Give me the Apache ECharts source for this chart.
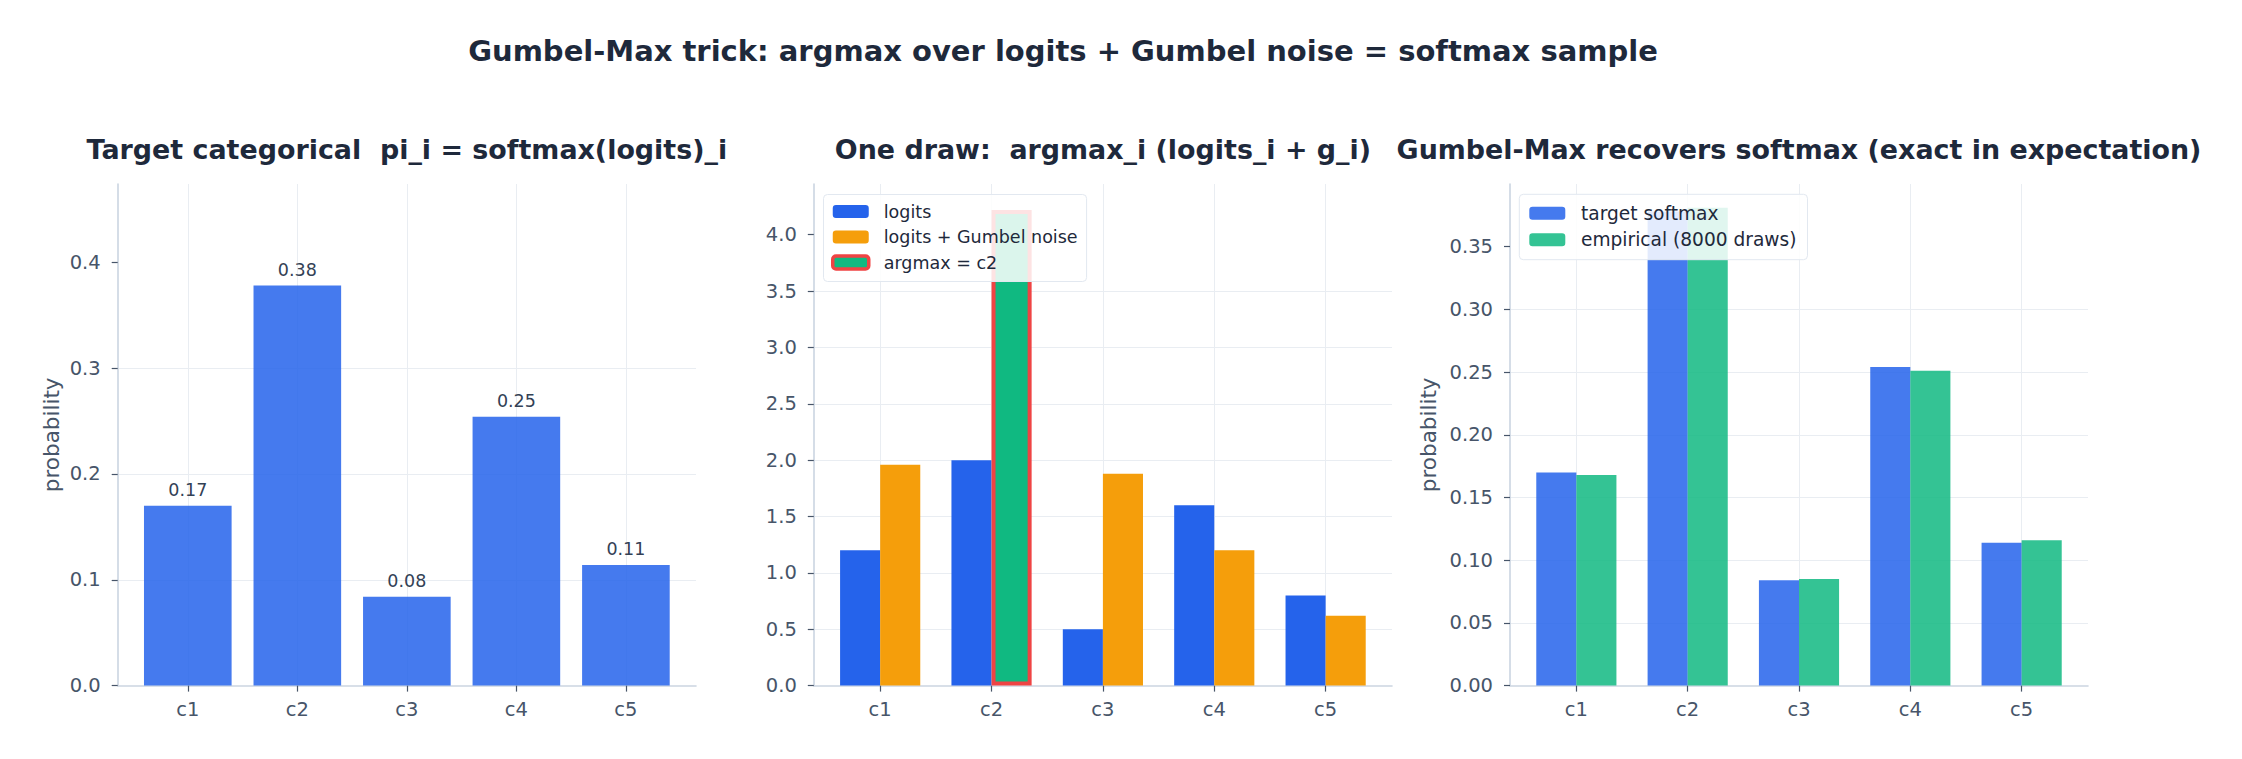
<!DOCTYPE html>
<html>
<head>
<meta charset="utf-8">
<script src="https://cdn.jsdelivr.net/npm/echarts@6/dist/echarts.min.js"></script>
<style>
  html, body { margin: 0; padding: 0; background: #fff; }
  #chart { width: 2242px; height: 759px; }
</style>
</head>
<body>
<div id="chart"></div>
<script>
// data
const categories = ['c1', 'c2', 'c3', 'c4', 'c5'];
const targetProbs = [0.170, 0.378, 0.084, 0.254, 0.114];
const logits = [1.2, 2.0, 0.5, 1.6, 0.8];
const noisyLogits = [1.96, 4.22, 1.88, 1.20, 0.62];
const empiricalProbs = [0.168, 0.381, 0.085, 0.251, 0.116];

// tick labels
const probTicks = [0, 0.1, 0.2, 0.3, 0.4];
const logitTicks = [0, 0.5, 1.0, 1.5, 2.0, 2.5, 3.0, 3.5, 4.0];
const compareTicks = [0, 0.05, 0.10, 0.15, 0.20, 0.25, 0.30, 0.35];

const FONT = 'DejaVu Sans';
const TEXT_DARK = '#1e293b';
const TEXT_MID = '#475569';
const SPINE = '#cbd5e1';
const GRIDLINE = '#e9edf2';
const BLUE = '#2563eb';
const BLUE_A = 'rgba(37,99,235,0.85)';
const ORANGE = '#f59e0b';
const GREEN = '#10b981';
const GREEN_A = 'rgba(16,185,129,0.85)';
const RED = '#ef4444';

const argmaxIdx = noisyLogits.indexOf(Math.max(...noisyLogits));
const argmaxName = 'argmax = ' + categories[argmaxIdx];

// axes boxes in page pixels (spines), and matplotlib-like x limits
const TOP = 184, BOTTOM = 685.6;
const panels = [
    { left: 117.7, right: 696, xlim: [-0.64, 4.64], yMax: 0.474, interval: 0.1, ticks: probTicks, digits: 1,
      title: 'Target categorical  pi_i = softmax(logits)_i', yName: 'probability', nameGap: 55 },
    { left: 813.8, right: 1392, xlim: [-0.596, 4.596], yMax: 4.45, interval: 0.5, ticks: logitTicks, digits: 1,
      title: 'One draw:  argmax_i (logits_i + g_i)', yName: '', nameGap: 0 },
    { left: 1510, right: 2088, xlim: [-0.596, 4.596], yMax: 0.40, interval: 0.05, ticks: compareTicks, digits: 2,
      title: 'Gumbel-Max recovers softmax (exact in expectation)', yName: 'probability', nameGap: 71 }
];

const grids = [], xAxes = [], yAxes = [], titles = [];

panels.forEach((p, i) => {
    const width = p.right - p.left;
    const unit = width / (p.xlim[1] - p.xlim[0]);
    const innerLeft = p.left + (-0.5 - p.xlim[0]) * unit;

    // outer grid: spines, horizontal grid, y labels
    grids.push({ left: p.left, top: TOP, width: width, height: BOTTOM - TOP });
    // inner grid: category bands, bars, x labels
    grids.push({ left: innerLeft, top: TOP, width: unit * 5, height: BOTTOM - TOP });

    xAxes.push({
        type: 'value', gridIndex: 2 * i, min: 0, max: 1,
        axisLine: { show: true, onZero: false, lineStyle: { color: SPINE, width: 1.6 } },
        axisTick: { show: false }, axisLabel: { show: false }, splitLine: { show: false }
    });
    xAxes.push({
        type: 'category', gridIndex: 2 * i + 1, data: categories,
        axisLine: { show: false },
        axisTick: { show: true, alignWithLabel: true, length: 6, lineStyle: { color: TEXT_MID, width: 1.2 } },
        axisLabel: { fontFamily: FONT, fontSize: 19.5, color: TEXT_MID, margin: 14 },
        splitLine: { show: true, alignWithLabel: true, lineStyle: { color: GRIDLINE, width: 1 } }
    });

    yAxes.push({
        type: 'value', gridIndex: 2 * i, min: 0, max: p.yMax, interval: p.interval,
        name: p.yName, nameLocation: 'middle', nameGap: p.nameGap,
        nameTextStyle: { fontFamily: FONT, fontSize: 21.5, color: TEXT_MID },
        axisLine: { show: true, onZero: false, lineStyle: { color: SPINE, width: 1.6 } },
        axisTick: { show: true, length: 6, customValues: p.ticks, lineStyle: { color: TEXT_MID, width: 1.2 } },
        axisLabel: {
            customValues: p.ticks, margin: 17, fontFamily: FONT, fontSize: 19.5, color: TEXT_MID,
            formatter: v => v.toFixed(p.digits)
        },
        splitLine: { show: true, showMinLine: false, showMaxLine: false, lineStyle: { color: GRIDLINE, width: 1 } }
    });
    yAxes.push({ type: 'value', gridIndex: 2 * i + 1, min: 0, max: p.yMax, show: false });

    titles.push({
        type: 'text', x: (p.left + p.right) / 2, y: 149,
        style: { text: p.title, fill: TEXT_DARK, font: 'bold 26.9px "' + FONT + '"', textAlign: 'center', textVerticalAlign: 'middle' }
    });
});

titles.push({
    type: 'text', x: 1063, y: 51,
    style: {
        text: 'Gumbel-Max trick: argmax over logits + Gumbel noise = softmax sample',
        fill: TEXT_DARK, font: 'bold 29px "' + FONT + '"', textAlign: 'center', textVerticalAlign: 'middle'
    }
});

const legendBase = {
    orient: 'vertical', itemWidth: 36, itemHeight: 13, selectedMode: false,
    backgroundColor: 'rgba(255,255,255,0.85)', borderColor: '#e2e8f0', borderWidth: 1, borderRadius: 4
};

const option = {
    animation: false,
    backgroundColor: '#ffffff',
    textStyle: { fontFamily: FONT },
    grid: grids,
    xAxis: xAxes,
    yAxis: yAxes,
    graphic: titles,
    legend: [
        Object.assign({}, legendBase, {
            left: 823.5, top: 194.5, padding: [8, 9, 10, 7.5], itemGap: 7.5,
            textStyle: { fontFamily: FONT, fontSize: 17.5, color: TEXT_DARK, padding: [0, 0, 0, 10] },
            data: [
                { name: 'logits' },
                { name: 'logits + Gumbel noise' },
                { name: argmaxName, itemStyle: { color: GREEN, borderColor: RED, borderWidth: 3.5 } }
            ]
        }),
        Object.assign({}, legendBase, {
            left: 1519.3, top: 194.3, padding: [9.5, 11, 10.5, 10], itemGap: 7.4,
            textStyle: { fontFamily: FONT, fontSize: 18.6, color: TEXT_DARK, padding: [0, 0, 0, 10.7] },
            data: [{ name: 'target softmax' }, { name: 'empirical (8000 draws)' }]
        })
    ],
    series: [
        {
            name: 'target categorical', type: 'bar', xAxisIndex: 1, yAxisIndex: 1,
            data: targetProbs, barWidth: '80%',
            itemStyle: { color: BLUE_A },
            label: {
                show: true, position: 'top', distance: 7,
                fontFamily: FONT, fontSize: 17.5, color: '#334155',
                formatter: d => d.value.toFixed(2)
            }
        },
        {
            name: 'logits', type: 'bar', xAxisIndex: 3, yAxisIndex: 3,
            data: logits, barWidth: '36%', barGap: '0%',
            itemStyle: { color: BLUE }
        },
        {
            name: 'logits + Gumbel noise', type: 'bar', xAxisIndex: 3, yAxisIndex: 3,
            data: noisyLogits.map((v, i) => i === argmaxIdx
                ? { value: v, itemStyle: { color: GREEN, borderColor: RED, borderWidth: 4 } }
                : v),
            barWidth: '36%', barGap: '0%',
            itemStyle: { color: ORANGE }
        },
        {
            // legend-only entry for the highlighted argmax bar
            name: argmaxName, type: 'bar', xAxisIndex: 2, yAxisIndex: 2, data: [],
            itemStyle: { color: GREEN, borderColor: RED, borderWidth: 3.5 }
        },
        {
            name: 'target softmax', type: 'bar', xAxisIndex: 5, yAxisIndex: 5,
            data: targetProbs, barWidth: '36%', barGap: '0%',
            itemStyle: { color: BLUE_A }
        },
        {
            name: 'empirical (8000 draws)', type: 'bar', xAxisIndex: 5, yAxisIndex: 5,
            data: empiricalProbs, barWidth: '36%', barGap: '0%',
            itemStyle: { color: GREEN_A }
        }
    ]
};

const chart = echarts.init(document.getElementById('chart'), null, { renderer: 'svg' });
chart.setOption(option);
window.addEventListener('resize', () => chart.resize());
</script>
</body>
</html>
